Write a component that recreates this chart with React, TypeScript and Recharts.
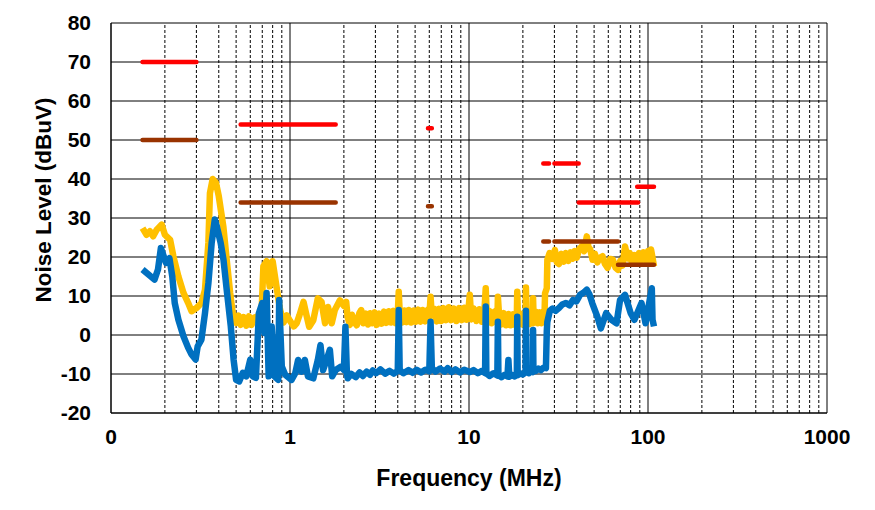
import React from "react";
import {
  LineChart,
  Line,
  XAxis,
  YAxis,
  CartesianGrid,
  ReferenceLine,
} from "recharts";

// Frequency in MHz, level in dBuV
const peakScan: [number, number][] = [
  [0.15, 27.4], [0.158, 25.7], [0.165, 26.6], [0.172, 25.3], [0.18, 27], [0.192, 28.3],
  [0.2, 25.7], [0.214, 24.4], [0.223, 20.2], [0.238, 15], [0.254, 10.8], [0.27, 8.2],
  [0.282, 6.1], [0.3, 6.9], [0.32, 8.2], [0.335, 11.6], [0.35, 23.6], [0.357, 36.4],
  [0.37, 40], [0.386, 39], [0.4, 35.6], [0.424, 27.9], [0.443, 19.3], [0.463, 10.8],
  [0.484, 3.9], [0.5, 3.1], [0.515, 5], [0.53, 2.6], [0.55, 4.6], [0.57, 2.4], [0.59, 4.8],
  [0.61, 2.6], [0.63, 4.4], [0.66, 4.8], [0.69, 3.2], [0.71, 17.6], [0.74, 18.9], [0.77, 12.5],
  [0.8, 18.9], [0.84, 12.5], [0.88, 6.5], [0.92, 3.2], [0.96, 5], [1.0, 3.6], [1.05, 2.2],
  [1.09, 3], [1.13, 5.1], [1.19, 8.5], [1.23, 5.5], [1.28, 2.1], [1.35, 3.8], [1.43, 9.4],
  [1.5, 8.5], [1.57, 3], [1.63, 7.2], [1.71, 3], [1.78, 6.4], [1.9, 8.9], [2.0, 7.5],
  [2.06, 8.5], [2.1, 4.5], [2.16, 2.6], [2.22, 5.2], [2.3, 3.2], [2.36, 2.5], [2.44, 5.6],
  [2.5, 6.4], [2.57, 3], [2.65, 5.5], [2.73, 2.7], [2.8, 5.6], [2.88, 3], [2.97, 5.8],
  [3.05, 2.6], [3.15, 5.5], [3.25, 2.9], [3.35, 6], [3.45, 3.1], [3.56, 6.1], [3.67, 3.2],
  [3.78, 6.2], [3.9, 3], [4.0, 5.4], [4.05, 11.1], [4.1, 5.8], [4.22, 3.2], [4.35, 6.3],
  [4.48, 3.3], [4.6, 6.4], [4.75, 3.2], [4.9, 6.3], [5.05, 3.4], [5.2, 6.5], [5.35, 3.4],
  [5.5, 6.4], [5.7, 3.5], [5.9, 6.5], [6.0, 4.5], [6.1, 9.8], [6.2, 5], [6.4, 6.7],
  [6.6, 3.5], [6.8, 6.7], [7.0, 3.6], [7.2, 6.9], [7.45, 3.8], [7.7, 7.1], [7.95, 3.8],
  [8.2, 6.8], [8.5, 3.6], [8.8, 6.9], [9.1, 3.8], [9.4, 7], [9.7, 3.9], [9.95, 7],
  [10.1, 10.3], [10.3, 4], [10.6, 6.8], [11, 3.6], [11.4, 6.6], [11.8, 3.4], [12.2, 6.4],
  [12.4, 12], [12.6, 3.4], [13, 6.2], [13.4, 3], [13.9, 6], [14.4, 3], [14.5, 9.8],
  [14.7, 5.6], [15.1, 2.7], [15.6, 5.6], [16.1, 2.5], [16.6, 5.4], [17.1, 2.5], [17.6, 5.3],
  [18.1, 2.6], [18.5, 5], [18.6, 11.1], [18.8, 3], [19.3, 5.5], [19.8, 2.7], [20.3, 5.6],
  [20.7, 3], [20.8, 12.2], [21, 3.2], [21.4, 5.8], [21.9, 2.8], [22.4, 5.7], [22.7, 3],
  [22.8, 9.4], [23, 3.2], [23.6, 6], [24.2, 3], [24.8, 5.8], [25.4, 3], [26, 6],
  [26.4, 4.5], [26.6, 10.7], [27.2, 12], [27.4, 19.3], [28.2, 21], [29.3, 19.5], [30.2, 21.8],
  [31, 18.6], [31.8, 18.2], [32.8, 20.8], [33.8, 18.8], [34.8, 21], [35.9, 19], [37, 21.2],
  [38, 19.6], [38.9, 21.5], [40, 19.8], [41.2, 22], [42.6, 22.7], [44, 21.5], [45.5, 25.3],
  [46.5, 22.5], [47.6, 21.9], [49, 19.3], [50.5, 20.8], [52.1, 18.6], [53.8, 19.8],
  [55.7, 20.2], [57.5, 18.2], [59.5, 17.2], [61.5, 19.5], [63.6, 19.3], [65.8, 17.3],
  [68, 16.7], [70, 19], [72, 17.8], [74.4, 22.7], [77, 19.6], [79, 21], [81.3, 18.6],
  [84, 20.5], [86.5, 18.7], [89, 21], [92, 19.2], [94.5, 21.2], [97.3, 19], [100, 21.5],
  [102, 19.2], [104, 21.9], [106, 19.8], [108, 17.6],
];

const avgScan: [number, number][] = [
  [0.15, 16.8], [0.162, 15.5], [0.175, 14.2], [0.183, 16.8], [0.19, 22.3], [0.197, 20.2],
  [0.203, 18.5], [0.212, 19.7], [0.22, 15], [0.227, 8.2], [0.238, 3.9], [0.254, -0.3],
  [0.27, -3.3], [0.282, -5], [0.297, -6.3], [0.305, -2.9], [0.32, -1.2], [0.335, 5.6],
  [0.35, 13.3], [0.365, 23.6], [0.38, 29.6], [0.39, 27.9], [0.41, 23.6], [0.425, 19.3],
  [0.445, 10.8], [0.467, 2.2], [0.484, -6.3], [0.5, -11.5], [0.52, -11.9], [0.545, -9.7],
  [0.57, -10.6], [0.6, -6.3], [0.62, -10.6], [0.645, -11], [0.67, 5.6], [0.7, 8.2],
  [0.72, 0.5], [0.74, 10.8], [0.76, -10.6], [0.79, 2.2], [0.82, -10.6], [0.86, -11.5],
  [0.87, 9], [0.9, -8.1], [0.94, -10.2], [1.02, -11.5], [1.07, -9.8], [1.11, -6.4],
  [1.16, -9.4], [1.21, -6.4], [1.26, -10.6], [1.35, -11.1], [1.43, -6.4], [1.48, -2.6],
  [1.53, -9], [1.59, -6.8], [1.67, -3.8], [1.72, -10.6], [1.8, -9], [1.93, -8.1],
  [2.0, -9], [2.04, 2.1], [2.08, -10], [2.1, -11.1], [2.2, -10], [2.33, -10.8], [2.45, -9.6],
  [2.55, -10.5], [2.68, -9.4], [2.8, -10.2], [2.9, -9.1], [3.03, -9.8], [3.2, -8.8],
  [3.4, -9.9], [3.6, -9.2], [3.8, -9.9], [4.0, -9.2], [4.05, 6.4], [4.1, -9], [4.3, -9.8],
  [4.6, -9], [4.85, -9.7], [5.1, -8.9], [5.4, -9.6], [5.7, -8.9], [6.0, -9.3], [6.1, 3.4],
  [6.2, -8.5], [6.5, -9.4], [6.9, -8.6], [7.3, -9.4], [7.6, -8.5], [8.0, -9.5], [8.4, -8.8],
  [8.9, -9.6], [9.4, -8.9], [10.1, -9.5], [10.6, -9], [11.2, -9.8], [11.8, -9.2],
  [12.3, -9.8], [12.4, 7.3], [12.5, -9.8], [13, -10.5], [13.7, -9.8], [14.4, -10.4],
  [14.5, 3.4], [14.6, -10.3], [15.2, -10.8], [15.8, -10.2], [16.4, -10.6], [16.6, -6.4],
  [16.8, -10.7], [17.4, -10.2], [18, -10.6], [18.5, -10.2], [18.6, 4.7], [18.7, -10.3],
  [19.3, -9.8], [20, -10.1], [20.7, -9.6], [20.8, 6.2], [20.9, -9.4], [21.6, -9.8],
  [22.2, -9.1], [22.7, -9.5], [22.8, 1.3], [22.9, -9], [23.6, -9.2], [24.4, -8.6],
  [25.2, -9], [26, -8.4], [26.9, -8.5], [27.2, 1], [27.4, 3.4], [28.3, 6.2], [29.3, 6.8],
  [30.5, 6.2], [31.8, 6.9], [33.2, 7.8], [34.8, 8.2], [36.4, 7.6], [38.1, 9], [39.8, 8.6],
  [41.7, 10.3], [43.5, 10.8], [45.5, 11.6], [47, 10.5], [48.8, 8.2], [52.1, 4.7],
  [54.5, 1.7], [58.4, 5.6], [62.5, 3.9], [66.7, 3], [69.8, 9], [74.4, 10.3], [80, 5.6],
  [84, 3.9], [92, 8.2], [96.9, 3], [105, 12], [106, 3.9], [108, 2.2],
];

// limit segments: [startMHz, endMHz, dBuV]
const peakLimits: [number, number, number][] = [
  [0.15, 0.3, 70], [0.53, 1.8, 54], [5.9, 6.2, 53], [26, 28, 44], [30, 41, 44],
  [41, 88, 34], [87, 108, 38],
];
const avgLimits: [number, number, number][] = [
  [0.15, 0.3, 50], [0.53, 1.8, 34], [5.9, 6.2, 33], [26, 28, 24], [30, 68, 24],
  [68, 108, 18],
];

const yTicks = [-20, -10, 0, 10, 20, 30, 40, 50, 60, 70, 80];
const xTicks = [0.1, 1, 10, 100, 1000];
const majorX = [0.1, 1, 10, 100, 1000];
const minorX = [2, 3, 4, 5, 6, 7, 8, 9].flatMap((m) => [m * 0.1, m, m * 10, m * 100]);

const toRows = (pts: [number, number][]) => pts.map(([f, v]) => ({ f, v }));
const segRows = (segs: [number, number, number][]) =>
  segs.flatMap(([a, b, v]) => [
    { f: a, v },
    { f: b, v },
    { f: b, v: null as number | null },
  ]);

const font = "'Liberation Sans', Arial, sans-serif";

export default function App() {
  return (
    <div style={{ position: "absolute", left: 0, top: 0, background: "#fff" }}>
      <LineChart
        width={875}
        height={510}
        margin={{ top: 23, right: 48, bottom: 0, left: 0 }}
      >
        <CartesianGrid vertical={false} stroke="#000" strokeWidth={1} />
        {minorX.map((x) => (
          <ReferenceLine key={"m" + x} x={x} stroke="#000" strokeWidth={1} strokeDasharray="3 2" />
        ))}
        {majorX.map((x) => (
          <ReferenceLine key={"M" + x} x={x} stroke="#000" strokeWidth={1} />
        ))}
        <XAxis
          dataKey="f"
          type="number"
          scale="log"
          domain={[0.1, 1000]}
          ticks={xTicks}
          allowDataOverflow
          height={97}
          axisLine={{ stroke: "#000" }}
          tickLine={false}
          tickSize={0}
          tickMargin={16}
          tickFormatter={(v: number) => (v === 0.1 ? "0" : String(v))}
          tick={{ fill: "#000", fontFamily: font, fontWeight: 700, fontSize: 21 }}
          label={{
            value: "Frequency (MHz)",
            position: "insideBottom",
            offset: 24,
            fill: "#000",
            style: { fontFamily: font, fontWeight: 700, fontSize: 23 },
          }}
        />
        <YAxis
          type="number"
          domain={[-20, 80]}
          ticks={yTicks}
          width={111}
          axisLine={{ stroke: "#000" }}
          tickLine={false}
          tickSize={0}
          tickMargin={20}
          tick={{ fill: "#000", fontFamily: font, fontWeight: 700, fontSize: 21 }}
          label={{
            content: () => (
              <text
                x={43}
                y={200}
                transform="rotate(-90 43 200)"
                textAnchor="middle"
                dominantBaseline="central"
                fill="#000"
                style={{ fontFamily: font, fontWeight: 700, fontSize: 22.5 }}
              >
                Noise Level (dBuV)
              </text>
            ),
          }}
        />
        <Line
          data={toRows(peakScan)}
          dataKey="v"
          stroke="#FFC000"
          strokeWidth={6.5}
          dot={false}
          type="linear"
          strokeLinejoin="round"
          isAnimationActive={false}
        />
        <Line
          data={toRows(avgScan)}
          dataKey="v"
          stroke="#0070C0"
          strokeWidth={6.5}
          dot={false}
          type="linear"
          strokeLinejoin="round"
          isAnimationActive={false}
        />
        <Line
          data={segRows(avgLimits)}
          dataKey="v"
          stroke="#993300"
          strokeWidth={4.5}
          strokeLinecap="round"
          dot={false}
          type="linear"
          connectNulls={false}
          isAnimationActive={false}
        />
        <Line
          data={segRows(peakLimits)}
          dataKey="v"
          stroke="#FF0000"
          strokeWidth={4.5}
          strokeLinecap="round"
          dot={false}
          type="linear"
          connectNulls={false}
          isAnimationActive={false}
        />
      </LineChart>
    </div>
  );
}
